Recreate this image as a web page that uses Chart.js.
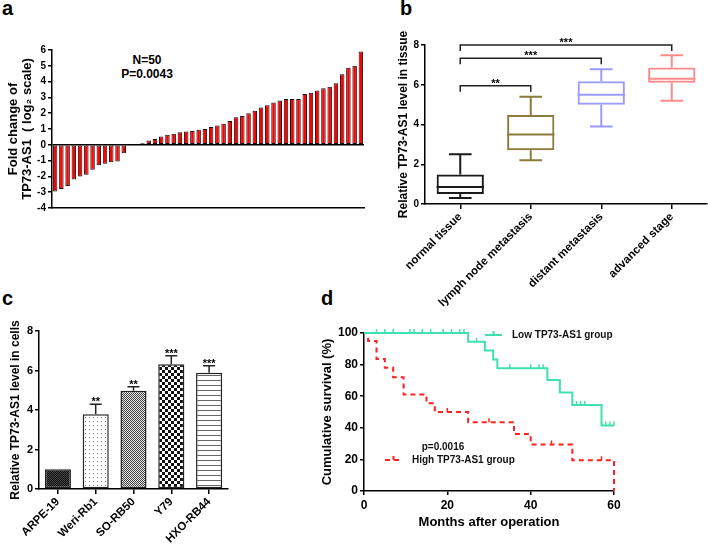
<!DOCTYPE html>
<html>
<head>
<meta charset="utf-8">
<script src="https://cdn.jsdelivr.net/npm/chart.js@4.4.1/dist/chart.umd.min.js"></script>
<style>
  html, body { margin: 0; padding: 0; background: #fff; }
  body { width: 708px; height: 545px; position: relative; overflow: hidden; font-family: "Liberation Sans", Arial, sans-serif; }
  canvas { position: absolute; }
  .tag { position: absolute; font-weight: bold; font-size: 20px; line-height: 20px; color: #000; }
  .note { position: absolute; font-weight: bold; font-size: 12px; line-height: 13.5px; text-align: center; color: #000; }
</style>
</head>
<body>
<div class="tag" style="left:2px;top:-2px">a</div>
<div class="tag" style="left:400px;top:-2px">b</div>
<div class="tag" style="left:2px;top:288px">c</div>
<div class="tag" style="left:321px;top:288px">d</div>
<div class="note" style="left:97px;top:54px;width:100px">N=50<br>P=0.0043</div>

<canvas id="chartA" width="368" height="215" style="left:0;top:0"></canvas>
<canvas id="chartB" width="340" height="320" style="left:368px;top:0"></canvas>
<canvas id="chartC" width="240" height="265" style="left:0;top:280px"></canvas>
<canvas id="chartD" width="408" height="255" style="left:300px;top:290px"></canvas>

<script>
// ---- panel a: fold change per patient (log2)
const foldChange = [
  -2.95, -2.8, -2.6, -2.2, -2.0, -1.9, -1.58, -1.3, -1.2, -1.1, -1.05, -0.53,
  0.02, 0.03, 0.1, 0.27, 0.36, 0.53, 0.63, 0.7, 0.8, 0.84, 0.88, 0.95,
  1.0, 1.12, 1.22, 1.33, 1.5, 1.75, 1.83, 2.0, 2.15, 2.36, 2.5, 2.67,
  2.8, 2.9, 2.9, 2.9, 3.22, 3.3, 3.43, 3.58, 3.68, 3.9, 4.46, 4.88, 5.0, 5.9
];

// ---- panel b: box plots
const tissueGroups = ['normal tissue', 'lymph node metastasis', 'distant metastasis', 'advanced stage'];
const tissueMin = [0.3, 2.2, 3.9, 5.2];
const tissueQ1 = [0.5, 2.7, 5.0, 6.1];
const tissueMedian = [0.85, 3.5, 5.5, 6.3];
const tissueQ3 = [1.48, 4.48, 6.17, 6.87];
const tissueMax = [2.5, 5.4, 6.78, 7.48];
const tissueColors = ['#1a1a1a', '#8c7c3c', '#9a9aff', '#ff8a8a'];
const sigFrom = [0, 0, 0];
const sigTo = [1, 2, 3];
const sigLevel = [5.95, 7.33, 8.0];
const sigText = ['**', '***', '***'];

// ---- panel c: cell lines
const cellLines = ['ARPE-19', 'Weri-Rb1', 'SO-RB50', 'Y79', 'HXO-RB44'];
const cellLevel = [1.0, 3.79, 4.97, 6.32, 5.89];
const cellError = [0, 0.5, 0.21, 0.43, 0.35];
const cellStars = ['', '**', '**', '***', '***'];
const cellPatterns = ['dark', 'dots', 'fine', 'checker', 'hlines'];

// ---- panel d: Kaplan-Meier
const lowMonths = [0, 25, 29, 31, 32, 44, 47, 50, 57, 60];
const lowSurvival = [100, 94.5, 89, 83.3, 77.7, 70.3, 62.3, 54.5, 41.5, 41.5];
const lowCensorMonths = [3, 5, 7, 11, 12, 14, 16, 19, 21, 23, 24, 27, 35, 40, 42, 43, 51, 52, 53, 58, 59, 60];
const lowCensorSurv = [100, 100, 100, 100, 100, 100, 100, 100, 100, 100, 100, 94.5, 77.7, 77.7, 77.7, 77.7, 54.5, 54.5, 54.5, 41.5, 41.5, 41.5];
const highMonths = [0, 1, 3, 5, 7, 9.5, 15, 17, 25, 36, 40, 50, 60];
const highSurvival = [100, 95, 83.5, 78, 72, 61, 55.5, 50, 43.5, 36, 29.5, 19.5, 0];
const highCensorMonths = [20, 30, 45, 57];
const highCensorSurv = [50, 43.5, 29.5, 19.5];

const LOW_COLOR = '#3fe0b0';
const HIGH_COLOR = '#ff2020';
const FONT = '"Liberation Sans", Arial, sans-serif';

Chart.defaults.font.family = FONT;
Chart.defaults.color = '#000';
Chart.defaults.animation = false;

function fixAxis(size) {
  return (scale) => {
    if (scale.isHorizontal()) scale.height = size; else scale.width = size;
    scale.paddingTop = scale.paddingBottom = scale.paddingLeft = scale.paddingRight = 0;
  };
}

const noPlugins = { legend: { display: false }, tooltip: { enabled: false } };
const axisBorder = { color: '#000', width: 1.5 };

// ---------- a
new Chart(document.getElementById('chartA'), {
  type: 'bar',
  data: {
    labels: foldChange.map((_, i) => i + 1),
    datasets: [{
      data: foldChange,
      backgroundColor: '#ff0000',
      borderColor: '#111',
      borderWidth: 1,
      borderSkipped: false,
      categoryPercentage: 0.8,
      barPercentage: 0.9
    }]
  },
  options: {
    responsive: false,
    layout: { padding: { top: 50, right: 4, left: 0, bottom: 0 } },
    plugins: noPlugins,
    scales: {
      x: { ticks: { display: false }, grid: { display: false }, border: axisBorder, afterFit: fixAxis(7) },
      y: {
        min: -4, max: 6,
        ticks: { stepSize: 1, font: { size: 10, weight: 'bold' }, padding: 2 },
        grid: { color: (c) => c.tick && c.tick.value === 0 ? '#000' : 'rgba(0,0,0,0)', tickColor: '#000', tickLength: 4, lineWidth: 1.5 },
        border: axisBorder,
        title: { display: true, text: ['Fold change of', 'TP73-AS1  ( log\u2082 scale)'], font: { size: 13, weight: 'bold', lineHeight: 1.12 }, padding: { top: 6, bottom: 0 } },
        afterFit: fixAxis(52)
      }
    }
  }
});

// ---------- b
const boxWhiskers = {
  id: 'boxWhiskers',
  afterDatasetsDraw(chart) {
    const { ctx, scales: { y } } = chart;
    const bars = chart.getDatasetMeta(0).data;
    ctx.save();
    ctx.lineWidth = 2;
    bars.forEach((bar, i) => {
      const cx = bar.x, half = bar.width / 2, cap = bar.width * 0.24;
      const yMed = y.getPixelForValue(tissueMedian[i]);
      const yQ1 = y.getPixelForValue(tissueQ1[i]), yQ3 = y.getPixelForValue(tissueQ3[i]);
      const yMin = y.getPixelForValue(tissueMin[i]), yMax = y.getPixelForValue(tissueMax[i]);
      ctx.strokeStyle = tissueColors[i];
      ctx.beginPath();
      ctx.moveTo(cx - half, yMed); ctx.lineTo(cx + half, yMed);
      ctx.moveTo(cx, yQ3); ctx.lineTo(cx, yMax);
      ctx.moveTo(cx - cap, yMax); ctx.lineTo(cx + cap, yMax);
      ctx.moveTo(cx, yQ1); ctx.lineTo(cx, yMin);
      ctx.moveTo(cx - cap, yMin); ctx.lineTo(cx + cap, yMin);
      ctx.stroke();
    });
    ctx.restore();
  }
};

const brackets = {
  id: 'brackets',
  afterDraw(chart) {
    const { ctx, scales: { x, y } } = chart;
    ctx.save();
    ctx.strokeStyle = '#222';
    ctx.lineWidth = 1.5;
    ctx.fillStyle = '#000';
    ctx.font = 'bold 11px ' + FONT;
    ctx.textAlign = 'center';
    ctx.textBaseline = 'alphabetic';
    sigLevel.forEach((level, k) => {
      const x1 = x.getPixelForValue(sigFrom[k]);
      const x2 = x.getPixelForValue(sigTo[k]);
      const yy = y.getPixelForValue(level);
      ctx.beginPath();
      ctx.moveTo(x1, yy + 6); ctx.lineTo(x1, yy); ctx.lineTo(x2, yy); ctx.lineTo(x2, yy + 6);
      ctx.stroke();
      ctx.fillText(sigText[k], (x1 + x2) / 2, yy + 1);
    });
    ctx.restore();
  }
};

new Chart(document.getElementById('chartB'), {
  type: 'bar',
  data: {
    labels: tissueGroups,
    datasets: [{
      data: tissueQ1.map((q, i) => [q, tissueQ3[i]]),
      backgroundColor: 'rgba(0,0,0,0)',
      borderColor: tissueColors,
      borderWidth: 2,
      borderSkipped: false,
      categoryPercentage: 1,
      barPercentage: 0.67
    }]
  },
  options: {
    responsive: false,
    layout: { padding: { top: 45, right: 1, left: 0, bottom: 0 } },
    plugins: noPlugins,
    scales: {
      x: {
        ticks: { autoSkip: false, minRotation: 45, maxRotation: 45, font: { size: 11.5, weight: 'bold' }, padding: 1 },
        grid: { offset: false, drawOnChartArea: false, tickColor: '#000', tickLength: 5, lineWidth: 1.5 },
        border: axisBorder,
        afterFit: fixAxis(116)
      },
      y: {
        min: 0, max: 8,
        ticks: { stepSize: 2, font: { size: 10, weight: 'bold' }, padding: 2 },
        grid: { drawOnChartArea: false, tickColor: '#000', tickLength: 4, lineWidth: 1.5 },
        border: axisBorder,
        title: { display: true, text: 'Relative TP73-AS1 level in tissue', font: { size: 12, weight: 'bold' }, padding: { top: 28, bottom: 0 } },
        afterFit: fixAxis(57)
      }
    }
  },
  plugins: [boxWhiskers, brackets]
});

// ---------- c
function makePattern(ctx, kind) {
  const t = document.createElement('canvas');
  const g = t.getContext('2d');
  if (kind === 'dark') {
    t.width = t.height = 2;
    g.fillStyle = '#111'; g.fillRect(0, 0, 2, 2);
    g.fillStyle = '#444'; g.fillRect(0, 0, 1, 1); g.fillRect(1, 1, 1, 1);
  } else if (kind === 'dots') {
    t.width = t.height = 4;
    g.fillStyle = '#fff'; g.fillRect(0, 0, 4, 4);
    g.fillStyle = '#888'; g.fillRect(1, 1, 1, 1);
  } else if (kind === 'fine') {
    t.width = t.height = 2;
    g.fillStyle = '#e4e4e4'; g.fillRect(0, 0, 2, 2);
    g.fillStyle = '#444'; g.fillRect(0, 0, 1, 1); g.fillRect(1, 1, 1, 1);
  } else if (kind === 'checker') {
    t.width = t.height = 6;
    g.fillStyle = '#fff'; g.fillRect(0, 0, 6, 6);
    g.fillStyle = '#111'; g.fillRect(0, 0, 3, 3); g.fillRect(3, 3, 3, 3);
  } else {
    t.width = 1; t.height = 5;
    g.fillStyle = '#fff'; g.fillRect(0, 0, 1, 5);
    g.fillStyle = '#666'; g.fillRect(0, 0, 1, 1);
  }
  return ctx.createPattern(t, 'repeat');
}

const errorBars = {
  id: 'errorBars',
  afterDatasetsDraw(chart) {
    const { ctx, scales: { y } } = chart;
    const bars = chart.getDatasetMeta(0).data;
    ctx.save();
    ctx.strokeStyle = '#222';
    ctx.lineWidth = 1.5;
    ctx.fillStyle = '#000';
    ctx.font = 'bold 11px ' + FONT;
    ctx.textAlign = 'center';
    bars.forEach((bar, i) => {
      const top = y.getPixelForValue(cellLevel[i] + cellError[i]);
      if (cellError[i] > 0) {
        ctx.beginPath();
        ctx.moveTo(bar.x, y.getPixelForValue(cellLevel[i])); ctx.lineTo(bar.x, top);
        ctx.moveTo(bar.x - 6, top); ctx.lineTo(bar.x + 6, top);
        ctx.stroke();
      }
      if (cellStars[i]) ctx.fillText(cellStars[i], bar.x, top + 1);
    });
    ctx.restore();
  }
};

const ctxC = document.getElementById('chartC').getContext('2d');
new Chart(ctxC, {
  type: 'bar',
  data: {
    labels: cellLines,
    datasets: [{
      data: cellLevel,
      backgroundColor: cellPatterns.map((k) => makePattern(ctxC, k)),
      borderColor: '#222',
      borderWidth: 1.5,
      borderSkipped: false,
      categoryPercentage: 1,
      barPercentage: 0.69
    }]
  },
  options: {
    responsive: false,
    layout: { padding: { top: 51, right: 12, left: 0, bottom: 0 } },
    plugins: noPlugins,
    scales: {
      x: {
        ticks: { autoSkip: false, minRotation: 45, maxRotation: 45, font: { size: 11.5, weight: 'bold' }, padding: 1 },
        grid: { offset: false, drawOnChartArea: false, tickColor: '#000', tickLength: 5, lineWidth: 1.5 },
        border: axisBorder,
        afterFit: fixAxis(56)
      },
      y: {
        min: 0, max: 8,
        ticks: { stepSize: 2, font: { size: 11, weight: 'bold' }, padding: 2 },
        grid: { drawOnChartArea: false, tickColor: '#000', tickLength: 4, lineWidth: 1.5 },
        border: axisBorder,
        title: { display: true, text: 'Relative TP73-AS1 level in cells', font: { size: 12, weight: 'bold' }, padding: { top: 8, bottom: 0 } },
        afterFit: fixAxis(39)
      }
    }
  },
  plugins: [errorBars]
});

// ---------- d
const censorMarks = {
  id: 'censorMarks',
  afterDatasetsDraw(chart) {
    const { ctx, scales: { x, y } } = chart;
    ctx.save();
    ctx.lineWidth = 1.5;
    const draw = (months, surv, color) => {
      ctx.strokeStyle = color;
      ctx.beginPath();
      months.forEach((m, i) => {
        const px = x.getPixelForValue(m), py = y.getPixelForValue(surv[i]);
        ctx.moveTo(px, py); ctx.lineTo(px, py - 4);
      });
      ctx.stroke();
    };
    draw(lowCensorMonths, lowCensorSurv, LOW_COLOR);
    draw(highCensorMonths, highCensorSurv, HIGH_COLOR);
    ctx.restore();
  }
};

const kmLegend = {
  id: 'kmLegend',
  afterDraw(chart) {
    const { ctx } = chart;
    ctx.save();
    ctx.lineWidth = 2;
    ctx.strokeStyle = LOW_COLOR;
    ctx.beginPath();
    ctx.moveTo(185, 45); ctx.lineTo(202, 45);
    ctx.moveTo(193.5, 45); ctx.lineTo(193.5, 41);
    ctx.stroke();
    ctx.strokeStyle = HIGH_COLOR;
    ctx.setLineDash([5, 4]);
    ctx.beginPath();
    ctx.moveTo(85, 170); ctx.lineTo(103, 170);
    ctx.stroke();
    ctx.setLineDash([]);
    ctx.beginPath();
    ctx.moveTo(93.5, 170); ctx.lineTo(93.5, 166);
    ctx.stroke();
    ctx.fillStyle = '#111';
    ctx.font = 'bold 10px ' + FONT;
    ctx.textBaseline = 'middle';
    ctx.fillText('Low TP73-AS1 group', 212, 45);
    ctx.fillText('High TP73-AS1 group', 112, 170);
    ctx.textAlign = 'center';
    ctx.fillText('p=0.0016', 143, 157);
    ctx.restore();
  }
};

new Chart(document.getElementById('chartD'), {
  type: 'line',
  data: {
    datasets: [
      {
        label: 'Low TP73-AS1 group',
        data: lowMonths.map((m, i) => ({ x: m, y: lowSurvival[i] })),
        stepped: true, borderColor: LOW_COLOR, borderWidth: 2, pointRadius: 0, fill: false, clip: false
      },
      {
        label: 'High TP73-AS1 group',
        data: highMonths.map((m, i) => ({ x: m, y: highSurvival[i] })),
        stepped: true, borderColor: HIGH_COLOR, borderWidth: 2, borderDash: [5, 4], pointRadius: 0, fill: false, clip: false
      }
    ]
  },
  options: {
    responsive: false,
    layout: { padding: { top: 43, right: 94, left: 0, bottom: 0 } },
    plugins: noPlugins,
    scales: {
      x: {
        type: 'linear', min: 0, max: 60,
        ticks: { stepSize: 20, font: { size: 12, weight: 'bold' }, padding: 3 },
        grid: { drawOnChartArea: false, tickColor: '#000', tickLength: 4, lineWidth: 1.5 },
        border: axisBorder,
        title: { display: true, text: 'Months after operation', font: { size: 13, weight: 'bold' }, padding: { top: 0, bottom: 15 } },
        afterFit: fixAxis(54)
      },
      y: {
        min: 0, max: 100,
        ticks: { stepSize: 20, font: { size: 12, weight: 'bold' }, padding: 2 },
        grid: { drawOnChartArea: false, tickColor: '#000', tickLength: 4, lineWidth: 1.5 },
        border: axisBorder,
        title: { display: true, text: 'Cumulative survival (%)', font: { size: 13, weight: 'bold' }, padding: { top: 20, bottom: 0 } },
        afterFit: fixAxis(64)
      }
    }
  },
  plugins: [censorMarks, kmLegend]
});
</script>
</body>
</html>
